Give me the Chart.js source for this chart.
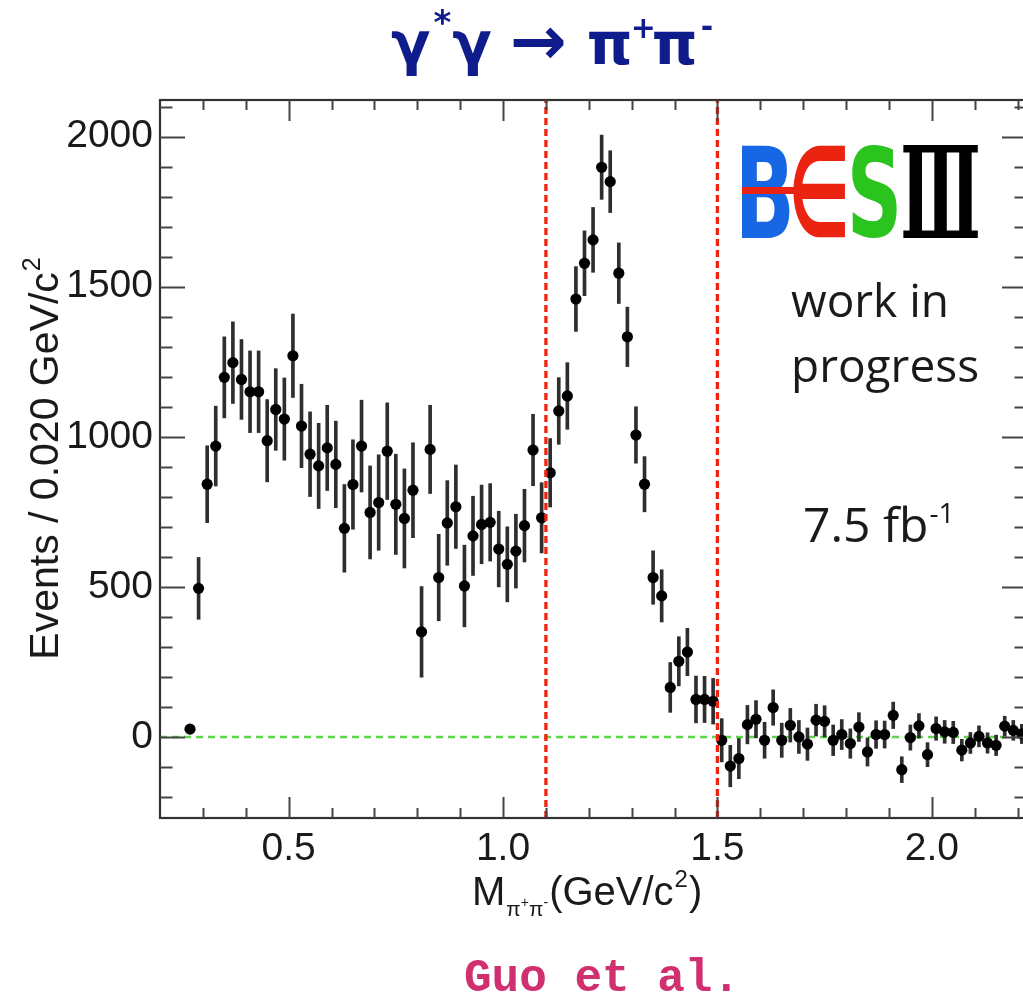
<!DOCTYPE html>
<html><head><meta charset="utf-8">
<script src="https://cdn.jsdelivr.net/npm/chart.js@4.4.0/dist/chart.umd.min.js"></script>
<style>
html,body{margin:0;padding:0;background:#fff;overflow:hidden;width:1023px;height:996px}
#wrap{position:absolute;left:0;top:0;width:1040px;height:996px}
canvas{display:block}
</style></head>
<body><div id="wrap"><canvas id="c" width="1040" height="996"></canvas></div>
<script>
// ---- data (bin centres in GeV/c^2, events per 0.020 GeV/c^2, statistical errors) ----
const massBins = [0.27,0.29,0.31,0.33,0.35,0.37,0.39,0.41,0.43,0.45,0.47,0.49,0.51,0.53,0.55,0.57,0.59,0.61,0.63,0.65,
  0.67,0.69,0.71,0.73,0.75,0.77,0.79,0.81,0.83,0.85,0.87,0.89,0.91,0.93,0.95,0.97,0.99,1.01,1.03,1.05,
  1.07,1.09,1.11,1.13,1.15,1.17,1.19,1.21,1.23,1.25,1.27,1.29,1.31,1.33,1.35,1.37,1.39,1.41,1.43,1.45,
  1.47,1.49,1.51,1.53,1.55,1.57,1.59,1.61,1.63,1.65,1.67,1.69,1.71,1.73,1.75,1.77,1.79,1.81,1.83,1.85,
  1.87,1.89,1.91,1.93,1.95,1.97,1.99,2.01,2.03,2.05,2.07,2.09,2.11,2.13,2.15,2.17,2.19,2.21];
const events = [26,495,842,969,1198,1247,1191,1150,1150,987,1091,1059,1270,1036,942,903,963,908,695,841,
  969,748,781,952,775,728,822,350,958,531,713,767,503,670,708,715,626,575,619,704,
  956,730,880,1086,1136,1459,1578,1656,1898,1850,1545,1333,1006,842,531,470,165,252,283,125,
  125,119,-11,-97,-72,41,59,-11,98,-11,39,0,-24,56,52,-11,8,-22,33,-50,
  8,8,72,-109,-2,37,-59,28,17,15,-44,-20,2,-20,-28,36,22,10];
const errors = [12,103,128,133,135,136,133,136,136,137,136,137,139,139,141,142,142,144,146,149,
  153,155,159,161,167,165,158,151,147,144,141,139,136,132,131,129,126,125,123,121,
  119,117,114,111,111,108,108,108,107,103,101,99,94,92,89,87,83,82,79,78,
  77,76,72,69,67,64,62,60,59,57,56,55,54,53,52,51,50,49,48,47,
  46,45,44,43,42,41,40,39,38,37,36,35,35,34,34,33,33,32];
const xTickValues = [0.5, 1.0, 1.5, 2.0];
const yTickValues = [0, 500, 1000, 1500, 2000];
const cutLines = [1.1, 1.5];
const xRange = [0.2, 2.222];
const yRange = [-270, 2122];

const NAVY = '#0f1c8c';
const SANS = '"Liberation Sans", Arial, sans-serif';

function fitText(ctx, text, font, color, x0, x1, yTop, yBot) {
  ctx.save();
  ctx.font = font;
  const m = ctx.measureText(text);
  const w = m.actualBoundingBoxLeft + m.actualBoundingBoxRight;
  const h = m.actualBoundingBoxAscent + m.actualBoundingBoxDescent;
  ctx.translate(x0, yTop);
  ctx.scale((x1 - x0) / w, (yBot - yTop) / h);
  ctx.fillStyle = color; ctx.textAlign = 'left'; ctx.textBaseline = 'alphabetic';
  ctx.fillText(text, m.actualBoundingBoxLeft, m.actualBoundingBoxAscent);
  ctx.restore();
}

function piece(ctx, text, font, x, y, color) {
  ctx.font = font; ctx.fillStyle = color;
  ctx.fillText(text, x, y);
  return x + ctx.measureText(text).width;
}

const decor = {
  id: 'decor',
  afterDraw(chart) {
    const ctx = chart.ctx, a = chart.chartArea;
    const xs = chart.scales.x, ys = chart.scales.y;
    ctx.save();
    // frame
    ctx.strokeStyle = '#333'; ctx.lineWidth = 2.2;
    ctx.strokeRect(a.left, a.top, a.right - a.left, a.bottom - a.top);
    // inward ticks
    ctx.strokeStyle = '#444'; ctx.lineWidth = 2;
    ctx.beginPath();
    for (let v = -200; v <= 2100; v += 100) {
      const p = Math.round(ys.getPixelForValue(v)) + 0.5;
      const len = (v % 500 === 0) ? 25 : 12.5;
      ctx.moveTo(a.left, p); ctx.lineTo(a.left + len, p);
      ctx.moveTo(a.right, p); ctx.lineTo(a.right - len, p);
    }
    for (let k = 3; k <= 22; k++) {
      const v = k / 10;
      const p = Math.round(xs.getPixelForValue(v)) + 0.5;
      const len = (k % 5 === 0) ? 21 : 10;
      ctx.moveTo(p, a.bottom); ctx.lineTo(p, a.bottom - len);
      ctx.moveTo(p, a.top); ctx.lineTo(p, a.top + len);
    }
    ctx.stroke();

    ctx.textAlign = 'left'; ctx.textBaseline = 'alphabetic';
    // title  γ*γ → π+π-
    let x = 391; const tb = 64;
    x = piece(ctx, 'γ', 'bold 58px "DejaVu Sans"', x, tb, NAVY);
    x = piece(ctx, '*', 'bold 34px "DejaVu Sans"', x + 3, tb - 30, NAVY);
    x = piece(ctx, 'γ', 'bold 58px "DejaVu Sans"', x + 1, tb, NAVY);
    x = piece(ctx, '→', 'bold 68px "DejaVu Sans"', x + 18, tb, NAVY);
    x = piece(ctx, 'π', 'bold 58px "DejaVu Sans"', x + 20, tb, NAVY);
    x = piece(ctx, '+', 'bold 30px "DejaVu Sans"', x - 2, tb - 26, NAVY);
    x = piece(ctx, 'π', 'bold 58px "DejaVu Sans"', x - 4, tb, NAVY);
    x = piece(ctx, '-', 'bold 30px "DejaVu Sans"', x + 3, tb - 27, NAVY);

    // y-axis title
    ctx.save();
    ctx.translate(58, 459);
    ctx.rotate(-Math.PI / 2);
    ctx.font = '41px ' + SANS;
    const mainY = 'Events / 0.020 GeV/c';
    const w1 = ctx.measureText(mainY).width;
    ctx.font = '25px ' + SANS;
    const w2 = ctx.measureText('2').width;
    let yx = -(w1 + w2) / 2;
    yx = piece(ctx, mainY, '41px ' + SANS, yx, 0, '#1a1a1a');
    piece(ctx, '2', '25px ' + SANS, yx + 1, -18, '#1a1a1a');
    ctx.restore();

    // x-axis title  M_{π+π-}(GeV/c²)
    const xb = 905;
    x = piece(ctx, 'M', '40px ' + SANS, 472, xb, '#1a1a1a');
    x = piece(ctx, 'π', '21px ' + SANS, x + 1, xb + 11, '#1a1a1a');
    x = piece(ctx, '+', '14px ' + SANS, x, xb + 2, '#1a1a1a');
    x = piece(ctx, 'π', '21px ' + SANS, x, xb + 11, '#1a1a1a');
    x = piece(ctx, '-', '14px ' + SANS, x, xb + 2, '#1a1a1a');
    x = piece(ctx, '(GeV/c', '40px ' + SANS, x + 1, xb, '#1a1a1a');
    x = piece(ctx, '2', '24px ' + SANS, x + 1, xb - 18, '#1a1a1a');
    x = piece(ctx, ')', '40px ' + SANS, x + 1, xb, '#1a1a1a');

    // BESIII logo
    fitText(ctx, 'B', 'bold 120px "DejaVu Sans"', '#1766e3', 742, 790, 145, 238);
    fitText(ctx, '∈', 'bold 120px "DejaVu Sans"', '#ea2410', 793, 845, 145, 238);
    ctx.fillStyle = '#ea2410';
    ctx.fillRect(742, 187, 58, 7);
    fitText(ctx, 'S', 'bold 120px "DejaVu Sans"', '#2bc41f', 852, 897, 145, 238);
    fitText(ctx, 'Ⅲ', 'bold 120px "DejaVu Serif"', '#000000', 903, 978, 145, 238);

    // annotations
    const OS = '"Open Sans", sans-serif';
    piece(ctx, 'work in', '46px ' + OS, 791, 317, '#1a1a1a');
    piece(ctx, 'progress', '46px ' + OS, 791, 382, '#1a1a1a');
    x = piece(ctx, '7.5 fb', '48px ' + OS, 803, 542, '#1a1a1a');
    piece(ctx, '-1', '28px ' + OS, x + 1, 523, '#1a1a1a');

    // credit
    piece(ctx, 'Guo et al.', 'bold 46px "Liberation Mono", monospace', 464, 991, '#d02f70');
    ctx.restore();
  }
};

new Chart(document.getElementById('c'), {
  type: 'scatter',
  data: {
    datasets: [
      { type: 'line', order: 0, data: [{x: cutLines[0], y: yRange[0]}, {x: cutLines[0], y: yRange[1]}],
        borderColor: '#f2220c', borderWidth: 3.3, borderDash: [7, 4], pointRadius: 0, fill: false },
      { type: 'line', order: 0, data: [{x: cutLines[1], y: yRange[0]}, {x: cutLines[1], y: yRange[1]}],
        borderColor: '#f2220c', borderWidth: 3.3, borderDash: [7, 4], pointRadius: 0, fill: false },
      { type: 'scatter', order: 1, data: massBins.map((m, i) => ({x: m, y: events[i]})),
        pointRadius: 5.6, pointBackgroundColor: '#000', pointBorderWidth: 0, pointHoverRadius: 5.6 },
      { type: 'bar', order: 2, data: massBins.map((m, i) => ({x: m, y: [events[i] - errors[i], events[i] + errors[i]]})),
        backgroundColor: '#2e2e2e', borderWidth: 0, barThickness: 3, grouped: false },
      { type: 'line', order: 3, data: [{x: xRange[0], y: 0}, {x: xRange[1], y: 0}],
        borderColor: '#5fd44c', borderWidth: 2.6, borderDash: [7, 5], pointRadius: 0, fill: false }
    ]
  },
  options: {
    responsive: false, animation: false, devicePixelRatio: 1,
    layout: { padding: { left: 0, right: 13, top: 100, bottom: 0 } },
    plugins: { legend: { display: false }, tooltip: { enabled: false }, title: { display: false } },
    events: [],
    scales: {
      x: {
        type: 'linear', position: 'bottom', min: xRange[0], max: xRange[1], offset: false,
        grid: { display: false, drawTicks: false, offset: false }, border: { display: false },
        afterBuildTicks: s => { s.ticks = xTickValues.map(v => ({ value: v })); },
        afterFit: s => { s.height = 178; },
        ticks: { font: { family: 'Liberation Sans', size: 39 }, color: '#1a1a1a', padding: 8,
                 maxRotation: 0, autoSkip: false, callback: v => v.toFixed(1) }
      },
      y: {
        type: 'linear', position: 'left', min: yRange[0], max: yRange[1],
        grid: { display: false, drawTicks: false }, border: { display: false },
        afterBuildTicks: s => { s.ticks = yTickValues.map(v => ({ value: v })); },
        afterFit: s => { s.width = 160; },
        ticks: { font: { family: 'Liberation Sans', size: 39 }, color: '#1a1a1a', padding: 7,
                 autoSkip: false, callback: v => String(v) }
      }
    }
  },
  plugins: [decor]
});
</script>
</body></html>
